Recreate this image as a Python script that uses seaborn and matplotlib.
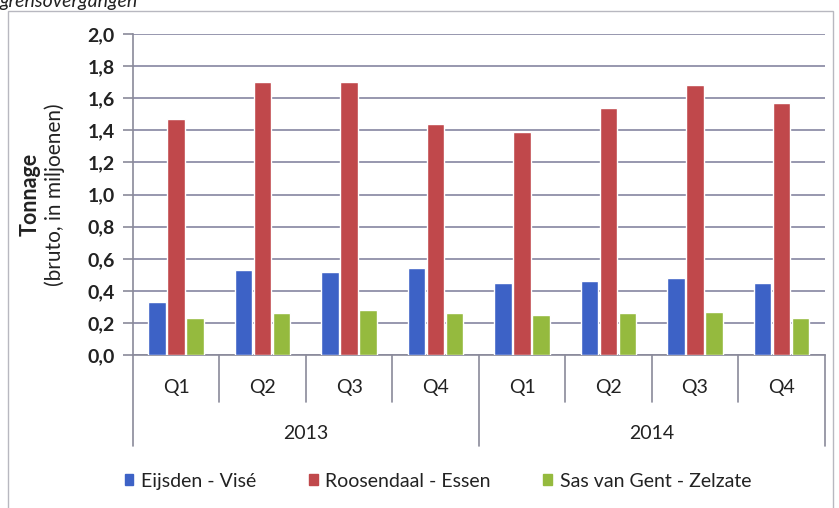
import pandas as pd
import matplotlib.pyplot as plt
import seaborn as sns
from matplotlib.patches import Rectangle
from matplotlib.ticker import FuncFormatter

# data (million tonnes, gross)
years = ["2013", "2014"]
quarters = ["Q1", "Q2", "Q3", "Q4"]
routes = ["Eijsden - Visé", "Roosendaal - Essen", "Sas van Gent - Zelzate"]
eijsden = [0.33, 0.53, 0.52, 0.54, 0.45, 0.46, 0.48, 0.45]
roosendaal = [1.47, 1.70, 1.70, 1.44, 1.39, 1.54, 1.68, 1.57]
sas_van_gent = [0.23, 0.26, 0.28, 0.26, 0.25, 0.26, 0.27, 0.23]
colors = ["#3D62C6", "#C0484B", "#95BA3E"]

periods = [y + " " + q for y in years for q in quarters]
df = pd.DataFrame({
    "periode": periods * 3,
    "route": [r for r in routes for _ in periods],
    "tonnage": eijsden + roosendaal + sas_van_gent,
})

sns.set_style("white")
plt.rcParams["font.family"] = ["Lato", "DejaVu Sans"]
txt_color = "#222222"

fig = plt.figure(figsize=(8.39, 5.08), dpi=100)
ax = fig.add_axes([0.1585, 0.301, 0.8245, 0.632])

sns.barplot(data=df, x="periode", y="tonnage", hue="route", order=periods,
            hue_order=routes, palette=colors, width=0.66, saturation=1,
            gap=0.08, ax=ax, legend=False, zorder=3)

ax.set_ylim(0, 2.0)
ax.set_xlim(-0.5, len(periods) - 0.5)
ax.set_yticks([i / 10 for i in range(0, 21, 2)])
ax.yaxis.set_major_formatter(FuncFormatter(lambda v, p: f"{v:.1f}".replace(".", ",")))
ax.tick_params(axis="y", left=True, length=7, width=1.2, color="#8a8a9a",
               labelsize=14, pad=6, labelcolor=txt_color)
for t in ax.get_yticklabels():
    t.set_fontweight("bold")
ax.set_xticks([])
ax.set_xlabel("")
ax.set_ylabel("")
ax.grid(axis="y", color="#8f8fa8", linewidth=1.3, zorder=0)
ax.set_axisbelow(True)
for s in ["top", "right"]:
    ax.spines[s].set_visible(False)
for s in ["left", "bottom"]:
    ax.spines[s].set_color("#8a8a9a")
    ax.spines[s].set_linewidth(1.2)

# two-level category axis
tr = ax.get_xaxis_transform()
for i in range(len(periods) + 1):
    bottom = -0.283 if i % 4 == 0 else -0.146
    ax.plot([i - 0.5, i - 0.5], [0, bottom], transform=tr, color="#8a8a9a",
            lw=1.2, clip_on=False)
for i, p in enumerate(periods):
    ax.text(i, -0.10, p.split()[1], transform=tr, ha="center", va="center",
            fontsize=14, color=txt_color)
for j, y in enumerate(years):
    ax.text(j * 4 + 1.5, -0.243, y, transform=tr, ha="center", va="center",
            fontsize=14, color=txt_color)

# axis title on two lines
ax.text(-0.149, 0.5, "Tonnage", transform=ax.transAxes, rotation=90,
        ha="center", va="center", fontsize=15.5, fontweight="bold",
        color=txt_color)
ax.text(-0.113, 0.5, "(bruto, in miljoenen)", transform=ax.transAxes,
        rotation=90, ha="center", va="center", fontsize=15, color=txt_color)

# legend
handles = [Rectangle((0, 0), 1, 1, color=c) for c in colors]
fig.legend(handles, routes, loc="center", bbox_to_anchor=(0.522, 0.053),
           ncol=3, frameon=False, fontsize=14, handlelength=0.45,
           handleheight=0.45, handletextpad=0.4, columnspacing=2.7,
           labelcolor=txt_color)

# chart frame and cut-off caption
fig.patches.append(Rectangle((8 / 839, -0.05), 825 / 839, 1.05 - 11 / 508,
                             transform=fig.transFigure, fill=False,
                             edgecolor="#b8b8c0", lw=1.0))
fig.text(0.0, 1.014, "grensovergangen", ha="left", va="top", fontsize=14,
         style="italic", color=txt_color)

fig.savefig("out.png", dpi=100)
